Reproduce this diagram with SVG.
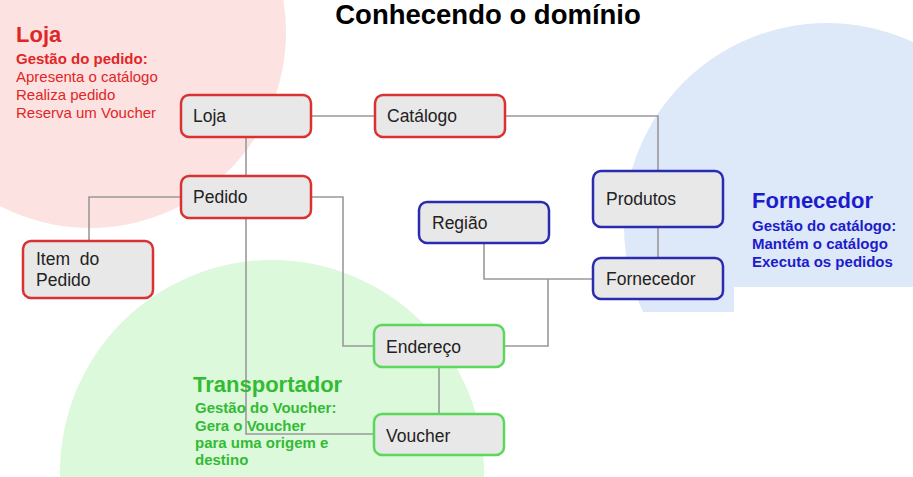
<svg xmlns="http://www.w3.org/2000/svg" width="913" height="477" viewBox="0 0 913 477">
<defs>
<style>
.box{fill:#e8e8e8;stroke-width:2.5}
.red{stroke:#d93232}
.blue{stroke:#2b2bb0}
.green{stroke:#5ad85a}
.lbl{font-family:"Liberation Sans",Arial,sans-serif;font-size:17.5px;fill:#222}
.conn{fill:none;stroke:#999;stroke-width:1.6}
.h{font-family:"Liberation Sans",Arial,sans-serif;font-weight:bold;font-size:22px}
.s{font-family:"Liberation Sans",Arial,sans-serif;font-size:15px}
.b{font-weight:bold}
</style>
<clipPath id="blueclip"><path d="M560 0H913V287H734V312H560Z"/></clipPath>
</defs>
<rect width="913" height="477" fill="#fff"/>
<g id="backgrounds">
<circle cx="90" cy="32" r="196" fill="#fde2e2"/>
<circle cx="272" cy="472" r="212" fill="#dcf9dc"/>
<circle cx="827" cy="226" r="203" fill="#dde8f8" clip-path="url(#blueclip)"/>
</g>
<text x="488" y="24" text-anchor="middle" font-family="'Liberation Sans',Arial,sans-serif" font-weight="bold" font-size="27.5" fill="#000">Conhecendo o domínio</text>
<g id="connectors">
<path class="conn" d="M311 116H375"/>
<path class="conn" d="M505 116H658V171"/>
<path class="conn" d="M658 227V258"/>
<path class="conn" d="M246 137V176"/>
<path class="conn" d="M181 197H89V241"/>
<path class="conn" d="M311 197H343V346H374"/>
<path class="conn" d="M246 218V434H374"/>
<path class="conn" d="M484 243V279H593"/>
<path class="conn" d="M504 346H548V279"/>
<path class="conn" d="M439 367V414"/>
</g>
<g id="node-loja"><rect class="box red" x="181" y="95" width="130" height="42" rx="8"/><text class="lbl" x="193" y="122">Loja</text></g>
<g id="node-catalogo"><rect class="box red" x="375" y="95" width="130" height="42" rx="8"/><text class="lbl" x="387" y="122">Catálogo</text></g>
<g id="node-pedido"><rect class="box red" x="181" y="176" width="130" height="42" rx="8"/><text class="lbl" x="193" y="203">Pedido</text></g>
<g id="node-item"><rect class="box red" x="23" y="241" width="130" height="57" rx="8"/><text class="lbl" x="36" y="265" style="white-space:pre">Item  do</text><text class="lbl" x="36" y="286">Pedido</text></g>
<g id="node-regiao"><rect class="box blue" x="419" y="202" width="130" height="41" rx="8"/><text class="lbl" x="432" y="229">Região</text></g>
<g id="node-produtos"><rect class="box blue" x="593" y="171" width="130" height="56" rx="8"/><text class="lbl" x="606" y="205">Produtos</text></g>
<g id="node-fornecedor"><rect class="box blue" x="593" y="258" width="130" height="41" rx="8"/><text class="lbl" x="606" y="285">Fornecedor</text></g>
<g id="node-endereco"><rect class="box green" x="374" y="325" width="130" height="42" rx="8"/><text class="lbl" x="386" y="353">Endereço</text></g>
<g id="node-voucher"><rect class="box green" x="374" y="414" width="130" height="41" rx="8"/><text class="lbl" x="386" y="442">Voucher</text></g>
<g id="label-loja" fill="#e02626">
<text class="h" x="16" y="42">Loja</text>
<text class="s b" x="16" y="64">Gestão do pedido:</text>
<text class="s" x="16" y="82">Apresenta o catálogo</text>
<text class="s" x="16" y="100">Realiza pedido</text>
<text class="s" x="16" y="118">Reserva um Voucher</text>
</g>
<g id="label-fornecedor" fill="#1c1ccc">
<text class="h" x="752" y="208">Fornecedor</text>
<text class="s b" x="752" y="231">Gestão do catálogo:</text>
<text class="s b" x="752" y="249">Mantém o catálogo</text>
<text class="s b" x="752" y="267">Executa os pedidos</text>
</g>
<g id="label-transportador" fill="#33bb33">
<text class="h" x="193" y="392">Transportador</text>
<text class="s b" x="195" y="413">Gestão do Voucher:</text>
<text class="s b" x="195" y="431">Gera o Voucher</text>
<text class="s b" x="195" y="448">para uma origem e</text>
<text class="s b" x="195" y="465">destino</text>
</g>
</svg>
